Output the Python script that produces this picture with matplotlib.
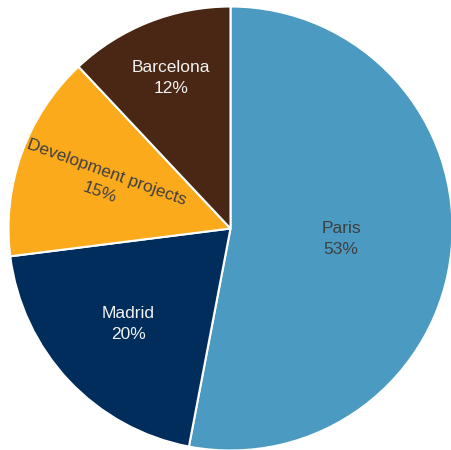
import numpy as np
import matplotlib.pyplot as plt

plt.rcParams['font.family'] = ['Liberation Sans', 'DejaVu Sans']

# share of spending by destination
labels = ["Paris", "Madrid", "Development projects", "Barcelona"]
shares = [53, 20, 15, 12]

colors = ["#4b9ac2", "#002d5c", "#fbaa1c", "#4a2614"]
text_colors = ["#404040", "#f2f2f2", "#404040", "#f2f2f2"]
label_dist = [0.50, 0.63, 0.61, 0.73]
rotate = [False, False, True, False]

fig = plt.figure(figsize=(4.51, 4.50), dpi=100)
ax = fig.add_axes([0, 0, 1, 1])

wedges, _ = ax.pie(shares, colors=colors, startangle=90, counterclock=False,
                   radius=1.0, center=(0, 0),
                   wedgeprops=dict(edgecolor="white", linewidth=1.5))

for w, name, val, tc, d, rot in zip(wedges, labels, shares, text_colors,
                                     label_dist, rotate):
    mid = np.deg2rad((w.theta1 + w.theta2) / 2)
    x, y = d * np.cos(mid), d * np.sin(mid)
    angle = np.rad2deg(mid) - 180 if rot else 0
    ax.text(x, y, f"{name}\n{val}%", ha="center", va="center",
            color=tc, fontsize=12.5, rotation=angle, rotation_mode="anchor",
            linespacing=1.5)

# pie centre sits at (230, 228) px with radius ~222 px
r_px = 222.0
cx, cy = 230.5, 228.5
ax.set_xlim(-cx / r_px, (451 - cx) / r_px)
ax.set_ylim(-(450 - cy) / r_px, cy / r_px)
ax.set_aspect("auto")
ax.axis("off")

fig.savefig("out.png", dpi=100)
